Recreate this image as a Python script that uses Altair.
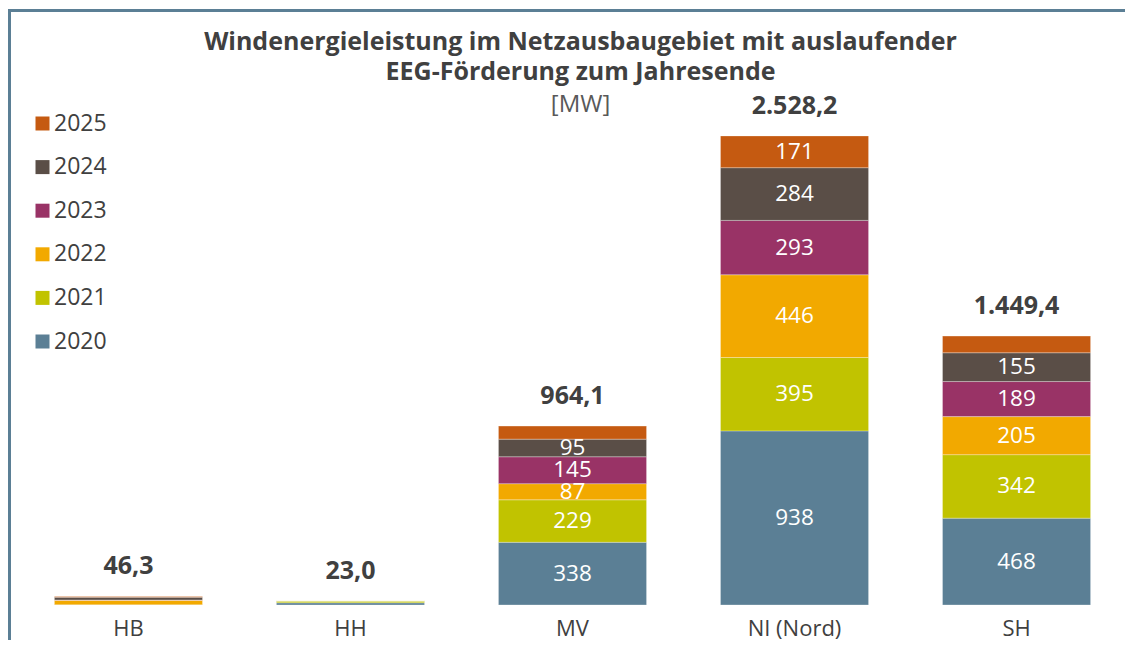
import altair as alt
import pandas as pd

# ---- data ----
regions = ["HB", "HH", "MV", "NI (Nord)", "SH"]
years = ["2020", "2021", "2022", "2023", "2024", "2025"]
v2020 = [1.0, 12.0, 338.0, 938.4, 468.2]
v2021 = [0.0, 9.0, 229.0, 395.3, 342.1]
v2022 = [24.0, 2.0, 87.0, 446.2, 205.0]
v2023 = [2.0, 0.0, 145.0, 293.1, 189.0]
v2024 = [14.3, 0.0, 95.0, 284.0, 155.2]
v2025 = [5.0, 0.0, 70.1, 171.2, 89.9]
colors = ["#5b7f95", "#c1c300", "#f2a900", "#993366", "#5a4e47", "#c55a11"]
label_min = 80
hidden_labels = [("SH", "2025")]

title_lines = ["Windenergieleistung im Netzausbaugebiet mit auslaufender",
               "EEG-Förderung zum Jahresende"]
unit = "[MW]"


def de_fmt(v):
    s = f"{v:,.1f}"
    return s.replace(",", "X").replace(".", ",").replace("X", ".")


series = [v2020, v2021, v2022, v2023, v2024, v2025]
rows = []
for yi, (yr, vals) in enumerate(zip(years, series)):
    for r, v in zip(regions, vals):
        rows.append({"region": r, "year": yr, "order": yi, "value": v})
df = pd.DataFrame(rows).sort_values(["region", "order"]).reset_index(drop=True)
df["cum"] = df.groupby("region")["value"].cumsum()
df["mid"] = df["cum"] - df["value"] / 2
df["label"] = [
    str(int(round(v))) if (v >= label_min and (r, y) not in hidden_labels) else ""
    for r, y, v in zip(df["region"], df["year"], df["value"])
]
totals = df.groupby("region", as_index=False)["value"].sum()
totals["label"] = totals["value"].map(de_fmt)

FONT = "Open Sans"
TXT = "#404040"

xenc = alt.X(
    "region:N", sort=regions,
    scale=alt.Scale(paddingInner=0.333, paddingOuter=0.155),
    axis=alt.Axis(title=None, ticks=False, domain=False, labelAngle=0,
                  labelFontSize=22, labelFont=FONT, labelColor=TXT,
                  labelPadding=13),
)
yscale = alt.Scale(domain=[0, 2614], nice=False)

bars = alt.Chart(df).mark_bar(stroke="#ffffff", strokeWidth=0.6, strokeOpacity=0.5).encode(
    x=xenc,
    y=alt.Y("value:Q", stack="zero", scale=yscale, axis=None),
    color=alt.Color(
        "year:N",
        scale=alt.Scale(domain=years[::-1], range=colors[::-1]),
        legend=alt.Legend(title=None, orient="none", legendX=11, legendY=-8,
                          symbolType="square", symbolSize=196, symbolStrokeWidth=0,
                          labelFontSize=23, labelFont=FONT, labelColor=TXT,
                          rowPadding=19.6, labelOffset=0, padding=0),
    ),
    order=alt.Order("order:Q", sort="ascending"),
)

seg_labels = alt.Chart(df).mark_text(
    color="#ffffff", fontSize=22.5, font=FONT, baseline="middle"
).encode(
    x=alt.X("region:N", sort=regions),
    y=alt.Y("mid:Q", scale=yscale),
    text="label:N",
)

total_labels = alt.Chart(totals).mark_text(
    color=TXT, fontSize=25, font=FONT, fontWeight="bold", baseline="middle", dy=-30
).encode(
    x=alt.X("region:N", sort=regions),
    y=alt.Y("value:Q", scale=yscale),
    text="label:N",
)

frame_df = pd.DataFrame({"edge": ["frame"]})
frame_left = alt.Chart(frame_df).mark_rule(color="#5b7f95", strokeWidth=3).encode(
    x=alt.value(-10.5), y=alt.value(-111), y2=alt.value(700)
)
frame_top = alt.Chart(frame_df).mark_rule(color="#5b7f95", strokeWidth=3).encode(
    x=alt.value(-12), x2=alt.value(1300), y=alt.value(-109.5)
)

chart = alt.layer(frame_left, frame_top, bars, seg_labels, total_labels).properties(
    width=1105,
    height=485,
    autosize=alt.AutoSizeParams(type="none"),
    padding={"left": 12, "top": 112, "right": 0, "bottom": 35},
    title=alt.TitleParams(
        text=title_lines, subtitle=unit,
        font=FONT, fontSize=25, fontWeight="bold", color=TXT, lineHeight=30,
        subtitleFont=FONT, subtitleFontSize=24, subtitleColor="#595959",
        subtitlePadding=8, anchor="middle", offset=-109, dx=8,
    ),
).configure_view(stroke="transparent", strokeWidth=0)

chart.save("out.html", embed_options={"renderer": "svg", "actions": False})
